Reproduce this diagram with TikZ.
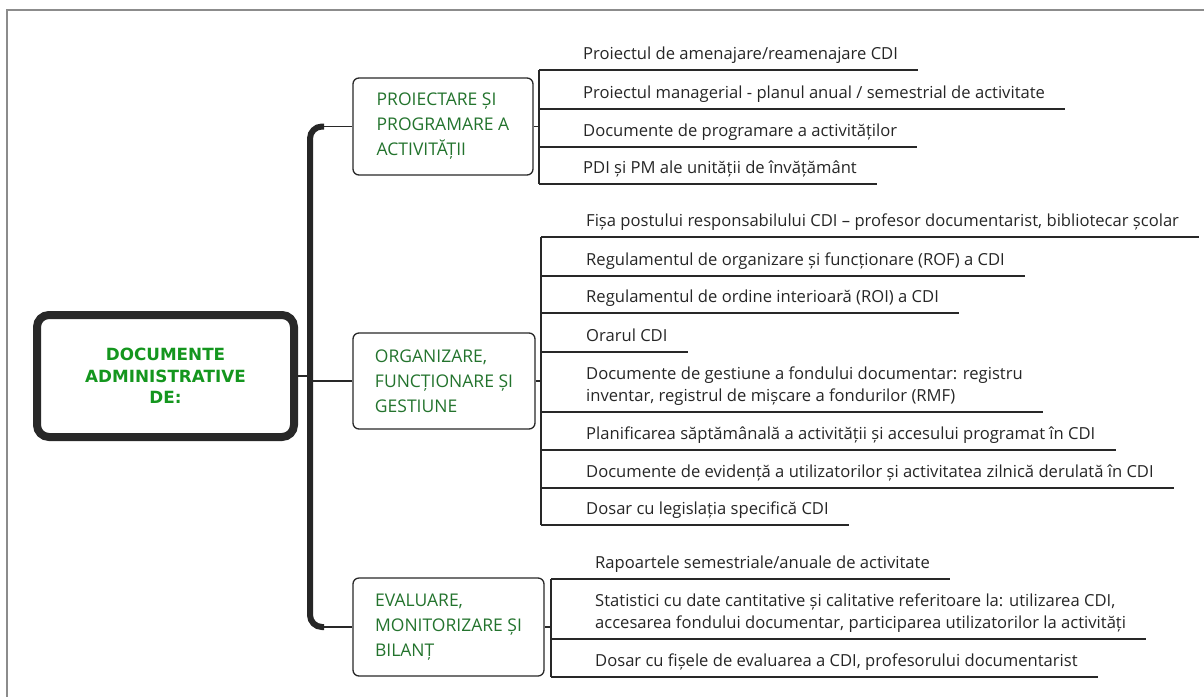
\documentclass[tikz,border=0pt]{standalone}
\usepackage{fontspec}
\setmainfont{Open Sans}
\newfontfamily\rootfont{DejaVu Sans}

\definecolor{rootgreen}{RGB}{20,150,30}
\definecolor{catgreen}{RGB}{35,115,45}
\definecolor{inkgray}{RGB}{40,40,40}
\definecolor{framegray}{RGB}{140,140,140}

\tikzset{
  rootbox/.style={draw=inkgray, line width=8pt, rounded corners=12pt,
    minimum width=257pt, minimum height=122pt, align=center, text=rootgreen,
    font=\rootfont\bfseries\fontsize{16.8}{21.5}\selectfont},
  catbox/.style={draw=inkgray, line width=1.3pt, rounded corners=6pt,
    align=left, text=catgreen, font=\fontsize{17.5}{25}\selectfont},
  leaf/.style={anchor=south west, inner xsep=0pt, inner ysep=6pt,
    text depth=4pt, align=left, text=black!85,
    font=\fontsize{16.6}{22.5}\selectfont},
  leafline/.style={draw=inkgray, line width=1.4pt},
  trunk/.style={draw=black!85, line width=6pt, rounded corners=12pt},
}

\begin{document}
\begin{tikzpicture}[x=1pt, y=-1pt]
  \useasboundingbox (0,0) rectangle (1204,697);
  \draw[framegray, line width=1.5pt] (1204,10) -- (7,10) -- (7,697);

  % root and the three branches
  \node[rootbox] (root) at (165.5,376) {DOCUMENTE\\ADMINISTRATIVE\\DE:};

  \node[catbox, minimum width=180pt, minimum height=97pt] (cat1) at (443,126.5)
    {PROIECTARE ȘI\\PROGRAMARE A\\ACTIVITĂȚII};
  \node[catbox, minimum width=182pt, minimum height=96pt] (cat2) at (444,381)
    {ORGANIZARE,\\FUNCȚIONARE ȘI\\GESTIUNE};
  \node[catbox, minimum width=191pt, minimum height=98pt] (cat3) at (448.5,627)
    {EVALUARE,\\MONITORIZARE ȘI\\BILANȚ};

  \coordinate (tx) at (310,0);
  \coordinate (ttop) at (cat1.west -| tx);
  \coordinate (tbot) at (cat3.west -| tx);
  \draw[trunk] ([xshift=14pt]ttop) -- (ttop) -- (tbot) -- ([xshift=14pt]tbot);
  \draw[leafline] ([xshift=14pt]ttop) -- (cat1.west);
  \draw[leafline] ([xshift=14pt]tbot) -- (cat3.west);
  \draw[leafline] (root.east) -- (root.east -| tx);
  \draw[leafline] (cat2.west -| tx) -- (cat2.west);

  % spines of the lists
  \coordinate (s1) at (539,0);
  \coordinate (s2) at (541,0);
  \coordinate (s3) at (551,0);

  % proiectare
  \node[leaf] (a1) at (583,70)  {Proiectul de amenajare/reamenajare CDI};
  \node[leaf] (a2) at (583,109) {Proiectul managerial - planul anual / semestrial de activitate};
  \node[leaf] (a3) at (583,147) {Documente de programare a activităților};
  \node[leaf] (a4) at (583,184) {PDI și PM ale unității de învățământ};

  % organizare
  \node[leaf] (b1) at (586,237) {Fișa postului responsabilului CDI – profesor documentarist, bibliotecar școlar};
  \node[leaf] (b2) at (586,276) {Regulamentul de organizare și funcționare (ROF) a CDI};
  \node[leaf] (b3) at (586,313) {Regulamentul de ordine interioară (ROI) a CDI};
  \node[leaf] (b4) at (586,352) {Orarul CDI};
  \node[leaf] (b5) at (586,412) {Documente de gestiune a fondului documentar: registru\\inventar, registrul de mișcare a fondurilor (RMF)};
  \node[leaf] (b6) at (586,450) {Planificarea săptămânală a activității și accesului programat în CDI};
  \node[leaf] (b7) at (586,488) {Documente de evidență a utilizatorilor și activitatea zilnică derulată în CDI};
  \node[leaf] (b8) at (586,525) {Dosar cu legislația specifică CDI};

  % evaluare
  \node[leaf] (c1) at (595,579) {Rapoartele semestriale/anuale de activitate};
  \node[leaf] (c2) at (595,639) {Statistici cu date cantitative și calitative referitoare la: utilizarea CDI,\\accesarea fondului documentar, participarea utilizatorilor la activități};
  \node[leaf] (c3) at (595,677) {Dosar cu fișele de evaluarea a CDI, profesorului documentarist};

  % underlines and brackets
  \foreach \p in {a1,a2,a3,a4}
    \draw[leafline] (\p.south west -| s1) -- ([xshift=20pt]\p.south east);
  \foreach \p in {b1,b2,b3,b4,b5,b6,b7,b8}
    \draw[leafline] (\p.south west -| s2) -- ([xshift=20pt]\p.south east);
  \foreach \p in {c1,c2,c3}
    \draw[leafline] (\p.south west -| s3) -- ([xshift=20pt]\p.south east);

  \draw[leafline] (a1.south west -| s1) -- (a4.south west -| s1);
  \draw[leafline] (b1.south west -| s2) -- (b8.south west -| s2);
  \draw[leafline] (c1.south west -| s3) -- (c3.south west -| s3);
  \draw[leafline] (cat1.east) -- (cat1.east -| s1);
  \draw[leafline] (cat2.east) -- (cat2.east -| s2);
  \draw[leafline] (cat3.east) -- (cat3.east -| s3);
\end{tikzpicture}
\end{document}
